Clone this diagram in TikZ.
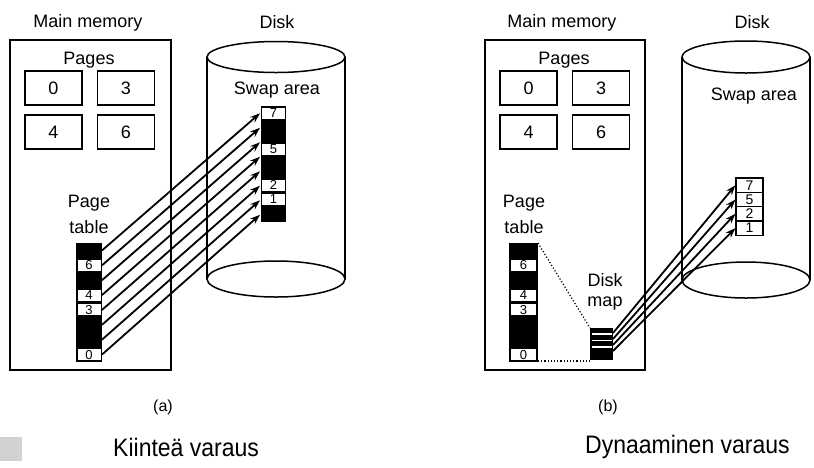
\documentclass[tikz,border=0pt]{standalone}
\usepackage{fontspec}
\setmainfont{Liberation Sans}
\usetikzlibrary{arrows.meta}
\begin{document}
\begin{tikzpicture}[x=1pt,y=-1pt,
  lbl/.style={font=\fontsize{18}{20}\selectfont, inner sep=0pt},
  pagebox/.style={draw, line width=1.5pt, minimum width=57pt, minimum height=34pt, inner sep=0pt, font=\fontsize{18}{20}\selectfont},
  entry/.style={fill=white, minimum width=23pt, minimum height=11pt, inner sep=0pt, font=\fontsize{13}{13}\selectfont},
  swapbox/.style={draw, fill=white, line width=1.2pt, minimum width=27pt, minimum height=14.3pt, inner sep=0pt, font=\fontsize{14}{14}\selectfont},
  frame/.style={draw, line width=1.5pt},
  arr/.style={line width=1.8pt, -{Stealth[length=10pt,width=7pt]}},
  dots/.style={line width=1.2pt, dotted},
  captxt/.style={font=\fontsize{16}{18}\selectfont, inner sep=0pt},
  bigtxt/.style={font=\fontsize{23}{26}\selectfont, inner sep=0pt}
]
\useasboundingbox (0,0) rectangle (814,467);

% ================= (a) =================
\node[lbl] (mmA) at (88,23) {Main memory};
\draw[frame] (10,40) rectangle (171,370);
\node[lbl] (pgA) at (89,60) {Pages};
\node[pagebox] (a0) at (53.5,88) {0};
\node[pagebox] (a3) at (126,88) {3};
\node[pagebox] (a4) at (53.5,132) {4};
\node[pagebox] (a6) at (126,132) {6};
\node[lbl] (ptA1) at (89,203) {Page};
\node[lbl] (ptA2) at (89,227) {table};

% page table column
\fill (76,243) rectangle (102,362);
\foreach \i/\t in {1/6,3/4,4/3,7/0}
  \node[entry] (aent\t) at (89,{243+14.875*\i+7.44}) {\t};

% disk
\node[lbl] (dkA) at (277,22) {Disk};
\draw[frame] (276,57) ellipse [x radius=69, y radius=15.5];
\draw[frame] (207,57) -- (207,279);
\draw[frame] (345,57) -- (345,279);
\draw[frame] (276,279) ellipse [x radius=69, y radius=18];
\node[lbl] (swA) at (277,90) {Swap area};

% swap column
\fill (261,106) rectangle (286,222);
\node[entry] (sw7) at (273.5,113) {7};
\node[entry] (sw5) at (273.5,149.5) {5};
\node[entry] (sw2) at (273.5,185) {2};
\node[entry] (sw1) at (273.5,199.5) {1};

% arrows page table -> swap
\foreach \i in {0,...,7} {
  \coordinate (ptR\i) at (102,{243+14.875*\i+7.44});
  \coordinate (swL\i) at (260,{106+14.5*\i+7.25});
  \draw[arr] (ptR\i) -- (swL\i);
}

\node[captxt] (capA) at (163,407) {(a)};

% ================= (b) =================
\node[lbl] (mmB) at (562,23) {Main memory};
\draw[frame] (485,40) rectangle (645,370);
\node[lbl] (pgB) at (564,60) {Pages};
\node[pagebox] (b0) at (528.5,88) {0};
\node[pagebox] (b3) at (601,88) {3};
\node[pagebox] (b4) at (528.5,132) {4};
\node[pagebox] (b6) at (601,132) {6};
\node[lbl] (ptB1) at (524,203) {Page};
\node[lbl] (ptB2) at (524,227) {table};

\fill (509,243) rectangle (538,362);
\foreach \i/\t in {1/6,3/4,4/3,7/0}
  \node[entry, minimum width=25pt] (bent\t) at (523.5,{243+14.875*\i+7.44}) {\t};
\coordinate (ptBtop) at (538,243);
\coordinate (ptBbot) at (538,361);

% disk map
\node[lbl] (dmB1) at (605,280) {Disk};
\node[lbl] (dmB2) at (605,304) {map};
\fill (590,328) rectangle (613,360);
\foreach \y in {334,340.5,347}
  \draw[white, line width=1.8pt] (591.5,\y) -- (611.5,\y);
\coordinate (dmTL) at (590,328);
\coordinate (dmBL) at (590,361);
\draw[dots] (ptBtop) -- (dmTL);
\draw[dots] (ptBbot) -- (dmBL);

% disk
\node[lbl] (dkB) at (752,22) {Disk};
\draw[frame] (746,57) ellipse [x radius=64, y radius=16];
\draw[frame] (682,57) -- (682,280);
\draw[frame] (810,57) -- (810,280);
\draw[frame] (746,280) ellipse [x radius=64, y radius=18];
\node[lbl] (swB) at (754,96) {Swap area};

\node[swapbox] (bs7) at (749.5,185.2) {7};
\node[swapbox] (bs5) at (749.5,199.5) {5};
\node[swapbox] (bs2) at (749.5,213.8) {2};
\node[swapbox] (bs1) at (749.5,228.1) {1};

\foreach \i/\n in {0/bs7,1/bs5,2/bs2,3/bs1} {
  \coordinate (dmR\i) at (613,{333+6*\i});
  \draw[arr] (dmR\i) -- (\n.west);
}

\node[captxt] (capB) at (608,407) {(b)};

% ================= bottom =================
\fill[gray!35] (0,437) rectangle (22,461);
\node[bigtxt, anchor=west, yscale=1.1] (kiA) at (113,447) {Kiinteä varaus};
\node[bigtxt, anchor=west, yscale=1.1] (dyB) at (585,447) {Dynaaminen varaus};
\end{tikzpicture}
\end{document}
